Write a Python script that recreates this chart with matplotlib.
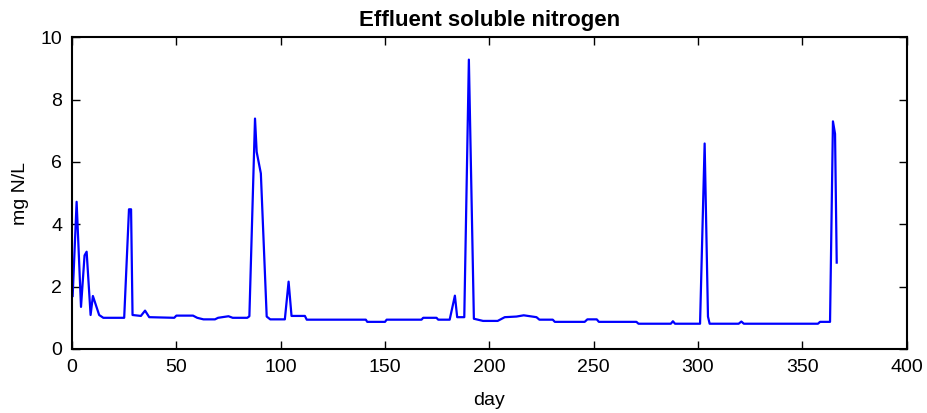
import numpy as np
import matplotlib.pyplot as plt

# effluent soluble N (day, mg N/L)
day = [0.3, 2.2, 4.3, 6.0, 7.0, 8.9, 10.0, 13.0, 15.0, 25.0, 27.3, 28.3, 29.0,
       33.0, 35.0, 37.0, 49.0, 50.0, 58.0, 60.0, 63.0, 68.5, 70.0, 75.0, 77.0,
       84.0, 85.0, 87.7, 88.5, 90.5, 93.3, 95.0, 102.0, 103.8, 105.2, 111.6,
       112.5, 140.8, 141.5, 150.0, 150.8, 167.5, 168.3, 174.7, 175.5, 181.0,
       183.5, 184.6, 188.0, 190.2, 192.6, 197.0, 204.0, 207.4, 213.0, 216.5,
       222.6, 224.0, 230.4, 231.4, 245.7, 247.0, 251.5, 252.5, 270.5, 271.5,
       287.0, 288.0, 289.0, 301.0, 303.2, 304.8, 305.6, 319.5, 320.8, 322.0,
       357.5, 358.5, 363.3, 364.7, 365.7, 366.5]
sn = [1.7, 4.72, 1.35, 3.0, 3.12, 1.09, 1.7, 1.09, 1.0, 1.0, 4.48, 4.48, 1.09,
      1.06, 1.23, 1.02, 1.0, 1.07, 1.07, 1.0, 0.95, 0.95, 1.0, 1.05, 1.0,
      1.0, 1.05, 7.39, 6.32, 5.63, 1.04, 0.95, 0.95, 2.16, 1.06, 1.06,
      0.94, 0.94, 0.87, 0.87, 0.94, 0.94, 1.0, 1.0, 0.94, 0.94,
      1.71, 1.02, 1.02, 9.28, 0.97, 0.9, 0.9, 1.02, 1.04, 1.08,
      1.02, 0.94, 0.94, 0.87, 0.87, 0.95, 0.95, 0.87, 0.87, 0.81,
      0.81, 0.89, 0.81, 0.81, 6.59, 1.04, 0.81, 0.81, 0.88, 0.81,
      0.81, 0.87, 0.87, 7.3, 6.9, 2.77]

xticks = np.arange(0, 401, 50)
yticks = np.arange(0, 11, 2)

plt.rcParams['font.family'] = ['Liberation Sans', 'DejaVu Sans']
fig = plt.figure(figsize=(9.27, 4.13), dpi=100)
ax = fig.add_axes([0.0777, 0.155, 0.9003, 0.755])

ax.plot(day, sn, color='blue', lw=1.6)

ax.set_xlim(0, 400)
ax.set_ylim(0, 10)
ax.set_xticks(xticks)
ax.set_yticks(yticks)
ax.tick_params(direction='in', length=6, width=1, top=True, right=True,
               labelsize=14, pad=7)
for s in ax.spines.values():
    s.set_linewidth(1.5)

ax.set_xlabel('day', fontsize=14, labelpad=12)
ax.set_ylabel('mg N/L', fontsize=14, labelpad=8)
ax.set_title('Effluent soluble nitrogen', fontsize=16, fontweight='bold', pad=8)

fig.savefig('out.png', dpi=100)
